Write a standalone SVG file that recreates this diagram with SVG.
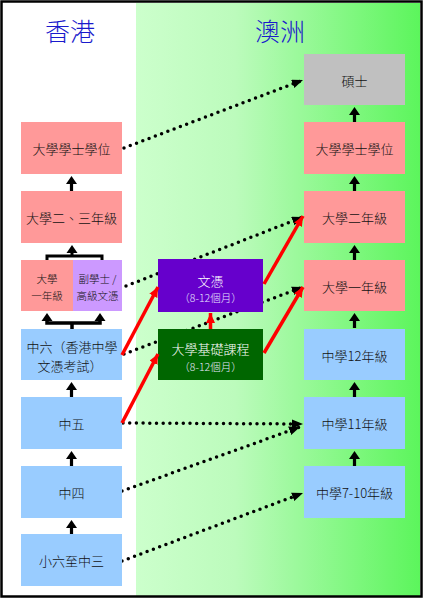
<svg xmlns="http://www.w3.org/2000/svg" xmlns:xlink="http://www.w3.org/1999/xlink" width="424" height="600" viewBox="0 0 424 600">
<style>
.t{font-family:"Noto Sans CJK TC","Liberation Serif",serif;font-weight:300;fill:#111;text-anchor:middle;dominant-baseline:central}
.m{font-size:13px}
.s{font-size:10.5px}
.w{fill:#fff;font-size:13px}
.sub{fill:#e6e6ff;font-size:10.5px}
.title{font-family:"Noto Sans CJK TC","Liberation Sans",sans-serif;font-weight:300;font-size:25px;fill:#1a1acc;text-anchor:middle}
.pink{fill:#ff9999}
.blue{fill:#99ccff}
.gray{fill:#c0c0c0}
.lav{fill:#cc99ff}
.dot{fill:none;stroke:#000;stroke-width:3.5;stroke-linecap:round;stroke-dasharray:0 6.7;marker-end:url(#bh)}
.red{fill:none;stroke:#ff0000;stroke-width:3.5;marker-end:url(#rh)}
.blk{fill:none;stroke:#000;stroke-width:3}
</style>
<defs>
<linearGradient id="g" x1="0" y1="0" x2="1" y2="0">
<stop offset="0" stop-color="#ccffcc"/>
<stop offset="0.35" stop-color="#bcfbbc"/>
<stop offset="1" stop-color="#5cf55c"/>
</linearGradient>
<marker id="bh" markerUnits="userSpaceOnUse" markerWidth="12" markerHeight="10" refX="11" refY="4.5" orient="auto">
<path d="M0,0 L11,4.5 L0,9 Z" fill="#000"/>
</marker>
<marker id="rh" markerUnits="userSpaceOnUse" markerWidth="12" markerHeight="10" refX="10" refY="4.5" orient="auto">
<path d="M0,0 L10,4.5 L0,9 Z" fill="#ff0000"/>
</marker>
<path id="up" d="M0,0 L5.5,8 L1.6,8 L1.6,15 L-1.6,15 L-1.6,8 L-5.5,8 Z" fill="#000"/>
<path id="head" d="M0,0 L5.5,8 L-5.5,8 Z" fill="#000"/>
</defs>

<rect x="0" y="0" width="424" height="600" fill="#fff"/>
<rect x="136" y="3" width="284" height="593" fill="url(#g)"/>
<rect x="1.5" y="1.5" width="420" height="595" fill="none" stroke="#000" stroke-width="2.5"/>

<text class="title" x="70" y="41">香港</text>
<text class="title" x="280" y="41">澳洲</text>

<g id="connectors">
<path class="dot" d="M124,148 L303,80"/>
<path class="dot" d="M126,286 L303,217"/>
<path class="dot" d="M124,354 L303,287"/>
<path class="dot" d="M123,423 L303,424"/>
<path class="dot" d="M122,491 L300,427"/>
<path class="dot" d="M122,561 L303,493"/>
<use xlink:href="#up" x="71.5" y="176"/>
<use xlink:href="#up" x="71.5" y="382"/>
<use xlink:href="#up" x="71.5" y="451"/>
<use xlink:href="#up" x="71.5" y="520"/>
<use xlink:href="#head" x="72" y="245"/>
<path class="blk" d="M72,253 L72,256 M47,260 L47,256 L102,256 L102,260"/>
<use xlink:href="#head" x="47" y="313"/>
<use xlink:href="#head" x="100" y="313"/>
<path d="M47,320 L47,323 L100,323 L100,320 M72,323 L72,329" fill="none" stroke="#000" stroke-width="3.5"/>
<use xlink:href="#up" x="354.5" y="107"/>
<use xlink:href="#up" x="354.5" y="176"/>
<use xlink:href="#up" x="354.5" y="245"/>
<use xlink:href="#up" x="354.5" y="313"/>
<use xlink:href="#up" x="354.5" y="382"/>
<use xlink:href="#up" x="354.5" y="451"/>
</g>

<g id="hk-degree"><rect class="pink" x="21" y="122" width="101" height="52"/><text class="t m" x="71.5" y="148">大學學士學位</text></g>
<g id="hk-year23"><rect class="pink" x="21" y="191" width="101" height="52"/><text class="t m" x="71.5" y="217">大學二、三年級</text></g>
<g id="hk-year1"><rect class="pink" x="21" y="260" width="52" height="51"/><text class="t s" x="47" y="278">大學</text><text class="t s" x="47" y="295">一年級</text></g>
<g id="hk-assoc"><rect class="lav" x="73" y="260" width="49" height="51"/><text class="t s" x="97.5" y="278">副學士 /</text><text class="t s" x="97.5" y="295">高級文憑</text></g>
<g id="hk-f6"><rect class="blue" x="21" y="329" width="101" height="51"/><text class="t m" x="72" y="346">中六（香港中學</text><text class="t m" x="70" y="365">文憑考試）</text></g>
<g id="hk-f5"><rect class="blue" x="21" y="397" width="101" height="52"/><text class="t m" x="71.5" y="423">中五</text></g>
<g id="hk-f4"><rect class="blue" x="21" y="466" width="101" height="52"/><text class="t m" x="71.5" y="492">中四</text></g>
<g id="hk-p6f3"><rect class="blue" x="21" y="534" width="101" height="52"/><text class="t m" x="71.5" y="560">小六至中三</text></g>

<g id="diploma"><rect x="158" y="259" width="105" height="53" fill="#6600cc"/><text class="t w" x="210.5" y="280">文憑</text><text class="t sub" x="210.5" y="297">（8-12個月）</text></g>
<g id="foundation"><rect x="158" y="329" width="105" height="51" fill="#006600"/><text class="t w" x="210.5" y="348">大學基礎課程</text><text class="t sub" x="210.5" y="366">（8-12個月）</text></g>

<g id="au-master"><rect class="gray" x="304" y="54" width="101" height="51"/><text class="t m" x="354.5" y="80">碩士</text></g>
<g id="au-degree"><rect class="pink" x="304" y="122" width="101" height="52"/><text class="t m" x="354.5" y="148">大學學士學位</text></g>
<g id="au-year2"><rect class="pink" x="304" y="191" width="101" height="52"/><text class="t m" x="354.5" y="217">大學二年級</text></g>
<g id="au-year1"><rect class="pink" x="304" y="260" width="101" height="51"/><text class="t m" x="354.5" y="286">大學一年級</text></g>
<g id="au-y12"><rect class="blue" x="304" y="329" width="101" height="51"/><text class="t m" x="354.5" y="355">中學12年級</text></g>
<g id="au-y11"><rect class="blue" x="304" y="397" width="101" height="52"/><text class="t m" x="354.5" y="423">中學11年級</text></g>
<g id="au-y7-10"><rect class="blue" x="304" y="466" width="101" height="52"/><text class="t m" x="354.5" y="492">中學7-10年級</text></g>

<g id="red-connectors">
<path class="red" d="M122,355 L158,287"/>
<path class="red" d="M122,423 L158,354"/>
<path class="red" d="M210.5,329 L210.5,313"/>
<path class="red" d="M264,284 L303,216"/>
<path class="red" d="M264,353 L303,287"/>
</g>
</svg>
